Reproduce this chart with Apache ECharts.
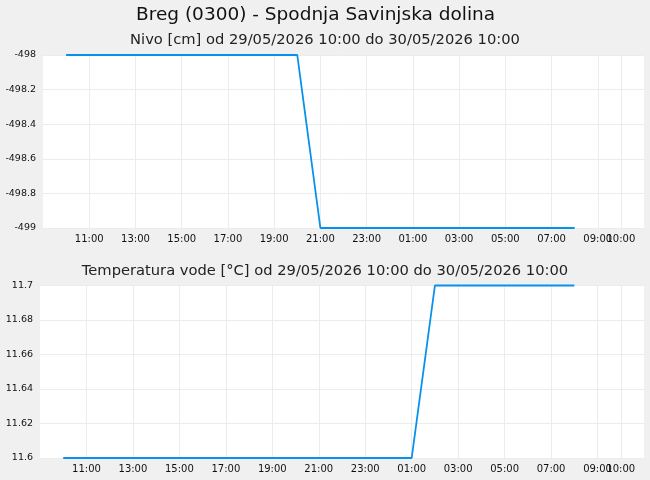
<!DOCTYPE html>
<html>
<head>
<meta charset="utf-8">
<script src="https://cdn.jsdelivr.net/npm/echarts@6/dist/echarts.min.js"></script>
<style>
html,body{margin:0;padding:0;background:#f0f0f0;}
#c{width:650px;height:480px;}
</style>
</head>
<body>
<div id="c"></div>
<script>
// hours counted from 29/05/2026 00:00
const hours = [10,11,12,13,14,15,16,17,18,19,20,21,22,23,24,25,26,27,28,29,30,31,32];
const nivo = [-498,-498,-498,-498,-498,-498,-498,-498,-498,-498,-498,-499,-499,-499,-499,-499,-499,-499,-499,-499,-499,-499,-499];
const temperatura = [11.6,11.6,11.6,11.6,11.6,11.6,11.6,11.6,11.6,11.6,11.6,11.6,11.6,11.6,11.6,11.6,11.7,11.7,11.7,11.7,11.7,11.7,11.7];
const tickHours = [11,13,15,17,19,21,23,25,27,29,31,33,34];
const labelHours = [11,13,15,17,19,21,23,25,27,29,31,33];
const extraLabelHours = [34];

const mainTitle = 'Breg (0300) - Spodnja Savinjska dolina';
const title1 = 'Nivo [cm] od 29/05/2026 10:00 do 30/05/2026 10:00';
const title2 = 'Temperatura vode [°C] od 29/05/2026 10:00 do 30/05/2026 10:00';

const FONT = 'DejaVu Sans';
const lineColor = '#0891ec';

function hourLabel(v){
  const h = ((Math.round(v) % 24) + 24) % 24;
  return (h < 10 ? '0' : '') + h + ':00';
}
function numLabel(v){ return String(+(+v).toFixed(2)); }

function xAxis(gi){
  return {
    type:'value', gridIndex:gi, min:9, max:35, position:'bottom',
    axisLine:{show:false},
    axisTick:{show:false, customValues:tickHours},
    axisLabel:{customValues:labelHours, formatter:hourLabel, fontFamily:FONT, fontSize:10, color:'#111', margin:6, hideOverlap:false},
    splitLine:{show:true, lineStyle:{color:'#ececec', width:1}}
  };
}
function xAxisExtra(gi){
  return {
    type:'value', gridIndex:gi, min:9, max:35, position:'bottom', offset:0,
    axisLine:{show:false},
    axisTick:{show:false, customValues:extraLabelHours},
    axisLabel:{customValues:extraLabelHours, formatter:hourLabel, fontFamily:FONT, fontSize:10, color:'#111', margin:6, hideOverlap:false},
    splitLine:{show:false}
  };
}
function yAxis(gi, min, max, interval){
  return {
    type:'value', gridIndex:gi, min:min, max:max, interval:interval,
    axisLine:{show:false}, axisTick:{show:false},
    axisLabel:{formatter:numLabel, fontFamily:FONT, fontSize:9.5, color:'#111', margin:7},
    splitLine:{show:true, lineStyle:{color:'#ececec', width:1}}
  };
}

const chart = echarts.init(document.getElementById('c'), null, {renderer:'canvas'});
chart.setOption({
  backgroundColor:'#f0f0f0',
  animation:false,
  title:[
    {text:mainTitle, left:131, top:0.5, textStyle:{fontFamily:FONT, fontSize:18.5, fontWeight:'normal', color:'#111'}},
    {text:title1, left:'center', top:28, textStyle:{fontFamily:FONT, fontSize:14.7, fontWeight:'normal', color:'#222'}},
    {text:title2, left:'center', top:259, textStyle:{fontFamily:FONT, fontSize:14.7, fontWeight:'normal', color:'#222'}}
  ],
  grid:[
    {left:43, right:6, top:55, height:173, backgroundColor:'#fff', show:true, borderWidth:0},
    {left:40, right:6, top:285.5, height:172.5, backgroundColor:'#fff', show:true, borderWidth:0}
  ],
  xAxis:[xAxis(0), xAxis(1), xAxisExtra(0), xAxisExtra(1)],
  yAxis:[yAxis(0,-499,-498,0.2), yAxis(1,11.6,11.7,0.02)],
  series:[
    {type:'line', xAxisIndex:0, yAxisIndex:0, data:hours.map((h,i)=>[h,nivo[i]]), showSymbol:false, symbol:'none', clip:false,
     lineStyle:{color:lineColor, width:1.8}},
    {type:'line', xAxisIndex:1, yAxisIndex:1, data:hours.map((h,i)=>[h,temperatura[i]]), showSymbol:false, symbol:'none', clip:false,
     lineStyle:{color:lineColor, width:1.8}}
  ]
});
</script>
</body>
</html>
